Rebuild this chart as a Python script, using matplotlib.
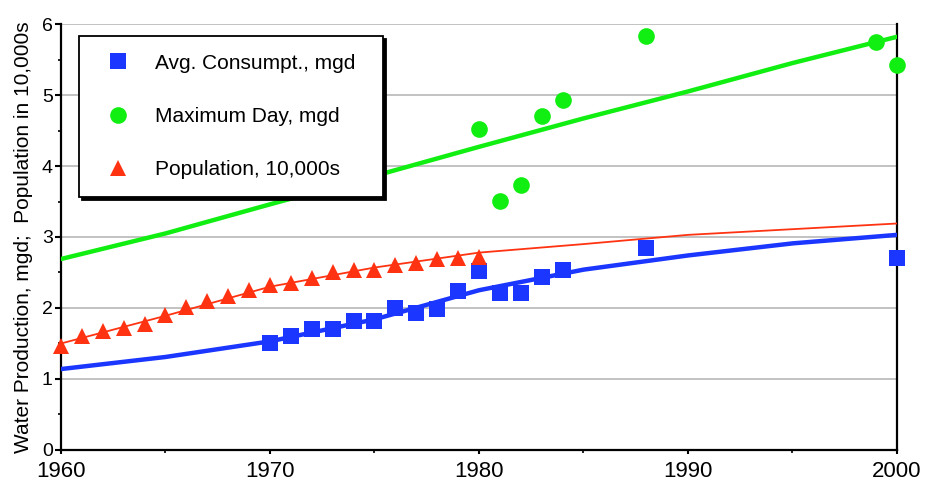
#!/usr/bin/env python3
"""Water production and population, 1960-2000, with fitted trend lines."""

import matplotlib
matplotlib.use("Agg")
import matplotlib.pyplot as plt
from matplotlib.lines import Line2D
from matplotlib.ticker import MultipleLocator

plt.rcParams['font.family'] = ['Liberation Sans', 'DejaVu Sans']

# === DATA ===
# observed points
avg_years = [1970, 1971, 1972, 1973, 1974, 1975, 1976, 1977, 1978, 1979,
             1980, 1981, 1982, 1983, 1984, 1988, 2000]
avg_consumpt = [1.51, 1.61, 1.70, 1.70, 1.82, 1.82, 2.00, 1.93, 1.99, 2.24,
                2.52, 2.21, 2.21, 2.43, 2.53, 2.84, 2.71]

maxday_years = [1980, 1981, 1982, 1983, 1984, 1988, 1999, 2000]
max_day = [4.52, 3.51, 3.73, 4.71, 4.93, 5.83, 5.74, 5.42]

pop_years = list(range(1960, 1981))
population = [1.46, 1.60, 1.67, 1.72, 1.78, 1.90, 2.01, 2.10, 2.17, 2.25,
              2.33, 2.35, 2.42, 2.50, 2.54, 2.54, 2.61, 2.64, 2.69, 2.71, 2.72]

# fitted trend lines
fit_years = [1960, 1965, 1970, 1975, 1980, 1985, 1990, 1995, 2000]
max_day_fit = [2.69, 3.05, 3.46, 3.86, 4.27, 4.67, 5.05, 5.45, 5.82]
avg_fit = [1.14, 1.31, 1.53, 1.84, 2.25, 2.54, 2.74, 2.91, 3.03]
pop_fit = [1.50, 1.89, 2.30, 2.57, 2.78, 2.90, 3.03, 3.11, 3.19]

BLUE = '#1a36ff'
GREEN = '#11ee11'
RED = '#ff3311'

# === PLOT ===
fig = plt.figure(figsize=(9.27, 4.87), dpi=100)
ax = fig.add_axes([0.0658, 0.076, 0.9018, 0.8747])

ax.plot(fit_years, max_day_fit, color=GREEN, lw=3.2, zorder=3)
ax.plot(fit_years, avg_fit, color=BLUE, lw=3.2, zorder=3)
ax.plot(fit_years, pop_fit, color=RED, lw=1.3, zorder=3)

ax.plot(avg_years, avg_consumpt, 's', color=BLUE, ms=11.5, mew=0, zorder=4,
        clip_on=False)
ax.plot(maxday_years, max_day, 'o', color=GREEN, ms=12, mew=0, zorder=4,
        clip_on=False)
ax.plot(pop_years, population, '^', color=RED, ms=12, mew=0, zorder=4,
        clip_on=False)

ax.set_xlim(1960, 2000)
ax.set_ylim(0, 6)
ax.xaxis.set_major_locator(MultipleLocator(10))
ax.xaxis.set_minor_locator(MultipleLocator(5))
ax.yaxis.set_major_locator(MultipleLocator(1))
ax.yaxis.set_minor_locator(MultipleLocator(0.5))

ax.grid(axis='y', which='major', color='#bdbdbd', lw=1.3, zorder=1)
ax.set_axisbelow(True)

ax.spines['top'].set_visible(False)
for side in ['left', 'bottom', 'right']:
    ax.spines[side].set_linewidth(1.6)
    ax.spines[side].set_color('black')

ax.tick_params(axis='x', which='major', direction='out', length=3, width=1.5,
               labelsize=16, pad=5)
ax.tick_params(axis='x', which='minor', direction='out', length=2.5, width=1.2)
ax.tick_params(axis='y', which='major', direction='out', length=4, width=1.5,
               labelsize=14, pad=2)
ax.tick_params(axis='y', which='minor', direction='out', length=2.5, width=1.2)

ax.set_ylabel('Water Production, mgd;  Population in 10,000s', fontsize=15,
              labelpad=6)

handles = [
    Line2D([], [], ls='none', marker='s', color=BLUE, ms=11.5, mew=0),
    Line2D([], [], ls='none', marker='o', color=GREEN, ms=12, mew=0),
    Line2D([], [], ls='none', marker='^', color=RED, ms=12, mew=0),
]
labels = ['Avg. Consumpt., mgd', 'Maximum Day, mgd', 'Population, 10,000s']
leg = ax.legend(handles, labels, loc='upper left', mode='expand',
                bbox_to_anchor=(79 / 927, 1 - 196 / 487, 304 / 927, 160 / 487),
                bbox_transform=fig.transFigure,
                fontsize=15, frameon=True, fancybox=False,
                shadow={'color': 'black', 'alpha': 1},
                borderpad=0.85, handlelength=2.0, handletextpad=0.8,
                labelspacing=1.65, borderaxespad=0)
leg.get_frame().set_edgecolor('black')
leg.get_frame().set_linewidth(1.3)
leg.get_frame().set_alpha(1)
leg.set_zorder(5)

fig.savefig('out.png', dpi=100)
